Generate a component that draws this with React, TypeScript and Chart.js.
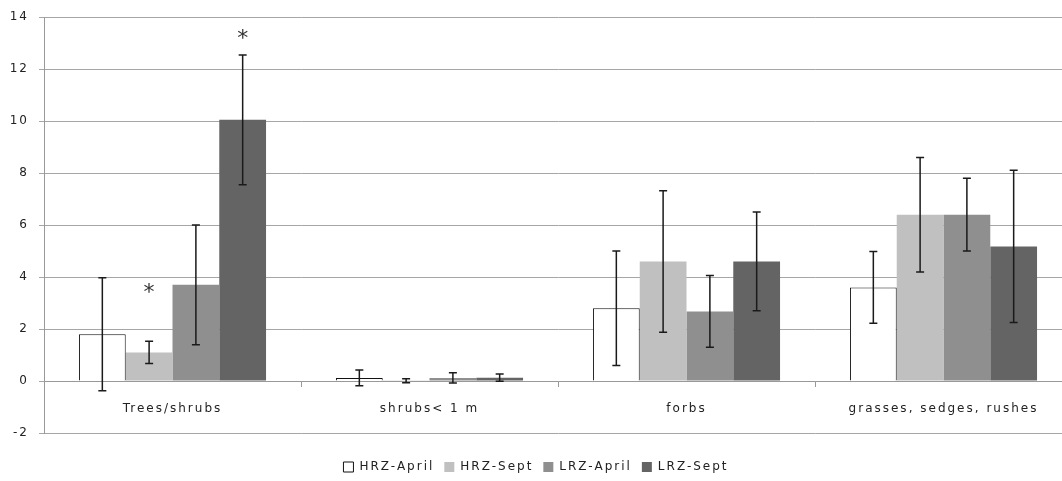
import React, { useEffect, useRef } from 'react';
import { Chart, registerables } from 'chart.js';

Chart.register(...registerables);

const categories = ['Trees/shrubs', 'shrubs< 1 m', 'forbs', 'grasses, sedges, rushes'];
const seriesNames = ['HRZ-April', 'HRZ-Sept', 'LRZ-April', 'LRZ-Sept'];

const hrzApril = [1.8, 0.12, 2.8, 3.6];
const hrzAprilErr = [2.17, 0.3, 2.2, 1.38];
const hrzSept = [1.1, 0.01, 4.6, 6.4];
const hrzSeptErr = [0.43, 0.08, 2.72, 2.2];
const lrzApril = [3.7, 0.12, 2.68, 6.4];
const lrzAprilErr = [2.3, 0.2, 1.38, 1.4];
const lrzSept = [10.05, 0.13, 4.6, 5.18];
const lrzSeptErr = [2.5, 0.14, 1.9, 2.93];

// significance marks (asterisk positions in axis units)
const hrzSeptMark = [3.5, null, null, null];
const lrzSeptMark = [13.25, null, null, null];

const yTickMin = -2;
const yTickMax = 14;
const yTickStep = 2;

const FONT = 'DejaVu Sans';
const SPACING = '2px';

const spacingPlugin = {
  id: 'spacing',
  beforeUpdate(chart: any) {
    chart.ctx.letterSpacing = SPACING;
  },
  beforeDraw(chart: any) {
    chart.ctx.letterSpacing = SPACING;
  },
};

const errorBarPlugin = {
  id: 'errorBars',
  afterDatasetsDraw(chart: any) {
    const ctx = chart.ctx;
    const yScale = chart.scales.y;
    ctx.save();
    ctx.strokeStyle = '#1a1a1a';
    ctx.lineWidth = 1.5;
    chart.data.datasets.forEach((ds: any, di: number) => {
      const meta = chart.getDatasetMeta(di);
      meta.data.forEach((bar: any, i: number) => {
        const v = ds.data[i];
        const e = ds.errors[i];
        const x = bar.x;
        const yTop = yScale.getPixelForValue(v + e);
        const yBot = yScale.getPixelForValue(v - e);
        ctx.beginPath();
        ctx.moveTo(x, yTop);
        ctx.lineTo(x, yBot);
        ctx.moveTo(x - 4, yTop);
        ctx.lineTo(x + 4, yTop);
        ctx.moveTo(x - 4, yBot);
        ctx.lineTo(x + 4, yBot);
        ctx.stroke();
      });
      if (ds.marks) {
        ctx.fillStyle = '#333';
        ctx.font = `22px "${FONT}"`;
        ctx.letterSpacing = '0px';
        ctx.textAlign = 'center';
        ctx.textBaseline = 'middle';
        meta.data.forEach((bar: any, i: number) => {
          const m = ds.marks[i];
          if (m === null || m === undefined) return;
          ctx.fillText('*', bar.x, yScale.getPixelForValue(m) + 3);
        });
      }
    });
    ctx.restore();
  },
};

export default function App() {
  const canvasRef = useRef<HTMLCanvasElement | null>(null);

  useEffect(() => {
    if (!canvasRef.current) return;
    Chart.defaults.font.family = FONT;
    Chart.defaults.font.size = 12;
    Chart.defaults.color = '#222';

    const chart = new Chart(canvasRef.current, {
      type: 'bar',
      data: {
        labels: categories,
        datasets: [
          {
            label: seriesNames[0],
            data: hrzApril,
            errors: hrzAprilErr,
            backgroundColor: '#ffffff',
            borderColor: '#111111',
            borderWidth: 1,
          } as any,
          {
            label: seriesNames[1],
            data: hrzSept,
            errors: hrzSeptErr,
            marks: hrzSeptMark,
            backgroundColor: '#c0c0c0',
            borderWidth: 0,
          } as any,
          {
            label: seriesNames[2],
            data: lrzApril,
            errors: lrzAprilErr,
            backgroundColor: '#8f8f8f',
            borderWidth: 0,
          } as any,
          {
            label: seriesNames[3],
            data: lrzSept,
            errors: lrzSeptErr,
            marks: lrzSeptMark,
            backgroundColor: '#646464',
            borderWidth: 0,
          } as any,
        ],
      },
      options: {
        animation: false,
        responsive: false,
        maintainAspectRatio: false,
        layout: { padding: { top: 14, left: 0, right: 0, bottom: -2 } },
        datasets: {
          bar: { categoryPercentage: 0.728, barPercentage: 1.0 },
        },
        plugins: {
          tooltip: { enabled: false },
          legend: {
            position: 'bottom',
            title: {
              display: true,
              text: ' ',
              font: { size: 10 },
              padding: { top: 0, bottom: 6 },
            },
            labels: {
              boxWidth: 10,
              boxHeight: 10,
              padding: 10,
              color: '#222',
              font: { size: 12, family: FONT },
            },
          },
        },
        scales: {
          x: {
            type: 'category',
            position: { y: 0 } as any,
            offset: true,
            afterFit: (scale: any) => {
              scale.height = 0;
            },
            grid: {
              offset: true,
              drawOnChartArea: false,
              drawTicks: true,
              tickLength: 5,
              color: '#999',
            },
            border: { display: true, color: '#999', width: 1 },
            ticks: { padding: 16, color: '#222', font: { size: 12, family: FONT } },
          },
          y: {
            min: yTickMin,
            max: yTickMax,
            afterFit: (scale: any) => {
              scale.width = 44;
            },
            ticks: {
              stepSize: yTickStep,
              padding: 10,
              color: '#222',
              font: { size: 12, family: FONT },
            },
            grid: { color: '#a6a6a6', lineWidth: 1, tickLength: 5, drawTicks: true },
            border: { display: true, color: '#999', width: 1 },
          },
        },
      },
      plugins: [spacingPlugin, errorBarPlugin],
    } as any);

    return () => chart.destroy();
  }, []);

  return (
    <div
      style={{
        position: 'fixed',
        left: 0,
        top: 0,
        width: 1062,
        height: 481,
        overflow: 'hidden',
        background: '#fff',
      }}
    >
      <canvas ref={canvasRef} width={1072} height={481} style={{ display: 'block' }} />
    </div>
  );
}
